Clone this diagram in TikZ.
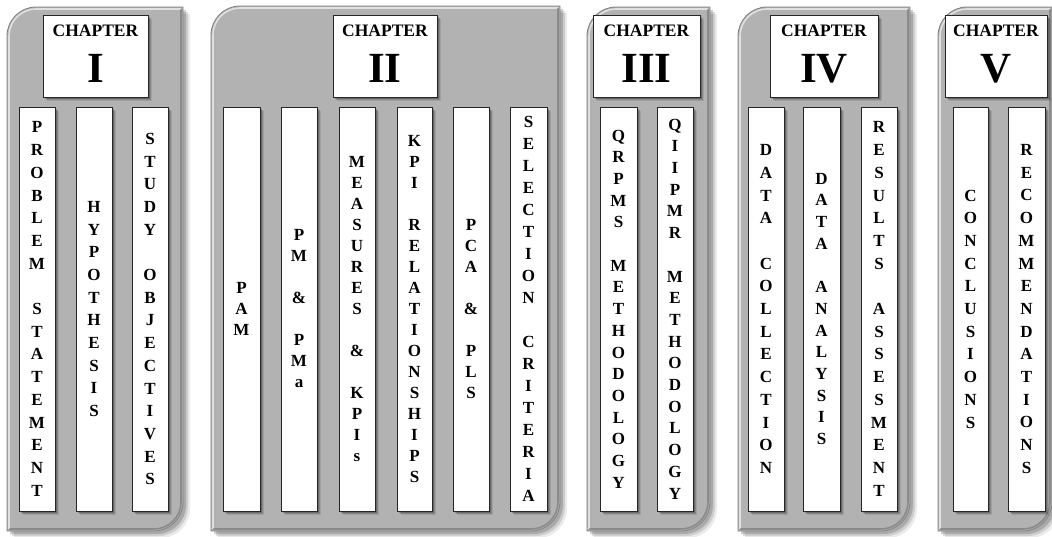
\documentclass[tikz,border=0pt]{standalone}
\usepackage{fontspec}
\setmainfont{Liberation Serif}
\newcommand\colfont[1]{\fontsize{17}{#1}\selectfont\bfseries}
\def\rad{29}
\begin{document}
\begin{tikzpicture}[x=1pt,y=-1pt,
  softshadow/.style={
    preaction={fill=black, opacity=0.10, transform canvas={shift={(4pt,-4pt)}}},
    preaction={fill=black, opacity=0.15, transform canvas={shift={(3pt,-3pt)}}},
    preaction={fill=black, opacity=0.22, transform canvas={shift={(1.8pt,-1.8pt)}}}},
  bigshadow/.style={
    preaction={fill=black, opacity=0.08, transform canvas={shift={(7pt,-7pt)}}},
    preaction={fill=black, opacity=0.12, transform canvas={shift={(5pt,-5pt)}}},
    preaction={fill=black, opacity=0.18, transform canvas={shift={(3pt,-3pt)}}}},
  panelbody/.style={bigshadow, fill=black!30, draw=black!50, line width=0.8pt},
  hilite/.style={draw=white, opacity=0.6, line width=1.6pt},
  lowlite/.style={draw=black, opacity=0.22, line width=1.6pt},
  colbox/.style={softshadow, draw=black!85, fill=white, line width=0.8pt,
    minimum height=404, inner sep=0pt, align=center, font=\colfont{#1}},
  colbox/.default=22.7,
  headbox/.style={softshadow, draw=black!85, fill=white, line width=0.8pt,
    minimum height=82, inner sep=0pt},
  chaptxt/.style={anchor=base, inner sep=0pt, font=\fontsize{17.5}{20}\selectfont\bfseries},
  numtxt/.style={anchor=base, inner sep=0pt, font=\fontsize{43}{43}\selectfont\bfseries}
]
\useasboundingbox (0,0) rectangle (1052,536);
\clip (0,0) rectangle (1052,536);

% chapter panels: rounded top-left and bottom-right corners
\foreach \xa/\ya/\xb/\yb in {7/7/183/531, 211/6/560/531, 587/7/710/531,
                             738/7/910/531, 938/7/1052/531}{
  \path[panelbody] (\xa,\yb) -- (\xa,{\ya+\rad})
    .. controls (\xa,{\ya+0.448*\rad}) and ({\xa+0.448*\rad},\ya) .. ({\xa+\rad},\ya)
    -- (\xb,\ya) -- (\xb,{\yb-\rad})
    .. controls (\xb,{\yb-0.448*\rad}) and ({\xb-0.448*\rad},\yb) .. ({\xb-\rad},\yb)
    -- cycle;
  % bevel: light upper-left edge, dark lower-right edge
  \draw[hilite] ({\xa+2},{\yb-2}) -- ({\xa+2},{\ya+\rad})
    .. controls ({\xa+2},{\ya+\rad-0.552*(\rad-2)}) and ({\xa+\rad-0.552*(\rad-2)},{\ya+2}) .. ({\xa+\rad},{\ya+2})
    -- ({\xb-2},{\ya+2});
  \draw[lowlite] ({\xb-2},{\ya+2}) -- ({\xb-2},{\yb-\rad})
    .. controls ({\xb-2},{\yb-\rad+0.552*(\rad-2)}) and ({\xb-\rad+0.552*(\rad-2)},{\yb-2}) .. ({\xb-\rad},{\yb-2})
    -- ({\xa+2},{\yb-2});
}

% chapter headers
\node[headbox, minimum width=105] (h1) at (95.5,56) {};
\node[headbox, minimum width=104] (h2) at (385,56) {};
\node[headbox, minimum width=107] (h3) at (646.5,56) {};
\node[headbox, minimum width=108] (h4) at (824,56) {};
\node[headbox, minimum width=102] (h5) at (996,56) {};
\node[chaptxt] (t1) at (95.5,36.5) {CHAPTER};
\node[chaptxt] (t2) at (385,36.5) {CHAPTER};
\node[chaptxt] (t3) at (646.5,36.5) {CHAPTER};
\node[chaptxt] (t4) at (824,36.5) {CHAPTER};
\node[chaptxt] (t5) at (996,36.5) {CHAPTER};
\node[numtxt] (n1) at (95.5,82) {I};
\node[numtxt] (n2) at (385,82) {II};
\node[numtxt] (n3) at (646.5,82) {III};
\node[numtxt] (n4) at (824,82) {IV};
\node[numtxt] (n5) at (996,82) {V};

% chapter I topics
\node[colbox, minimum width=36] (c11) at (37,309) {P\\R\\O\\B\\L\\E\\M\\~\\S\\T\\A\\T\\E\\M\\E\\N\\T};
\node[colbox, minimum width=36] (c12) at (94,309) {H\\Y\\P\\O\\T\\H\\E\\S\\I\\S};
\node[colbox, minimum width=36] (c13) at (150,309) {S\\T\\U\\D\\Y\\~\\O\\B\\J\\E\\C\\T\\I\\V\\E\\S};

% chapter II topics
\node[colbox=21, minimum width=37] (c21) at (241.5,309) {P\\A\\M};
\node[colbox=21, minimum width=36] (c22) at (299,309) {P\\M\\~\\\&\\~\\P\\M\\a};
\node[colbox=21, minimum width=36] (c23) at (357,309) {M\\E\\A\\S\\U\\R\\E\\S\\~\\\&\\~\\K\\P\\I\\s};
\node[colbox=21, minimum width=35] (c24) at (414.5,309) {K\\P\\I\\~\\R\\E\\L\\A\\T\\I\\O\\N\\S\\H\\I\\P\\S};
\node[colbox=21, minimum width=36] (c25) at (471,309) {P\\C\\A\\~\\\&\\~\\P\\L\\S};
\node[colbox=22, minimum width=37] (c26) at (528.5,309) {S\\E\\L\\E\\C\\T\\I\\O\\N\\~\\C\\R\\I\\T\\E\\R\\I\\A};

% chapter III topics
\node[colbox=21.7, minimum width=37] (c31) at (618.5,309) {Q\\R\\P\\M\\S\\~\\M\\E\\T\\H\\O\\D\\O\\L\\O\\G\\Y};
\node[colbox=21.7, minimum width=36] (c32) at (675,309) {Q\\I\\I\\P\\M\\R\\~\\M\\E\\T\\H\\O\\D\\O\\L\\O\\G\\Y};

% chapter IV topics
\node[colbox, minimum width=36] (c41) at (766,309) {D\\A\\T\\A\\~\\C\\O\\L\\L\\E\\C\\T\\I\\O\\N};
\node[colbox=21.7, minimum width=37] (c42) at (821.5,309) {D\\A\\T\\A\\~\\A\\N\\A\\L\\Y\\S\\I\\S};
\node[colbox, minimum width=36] (c43) at (879,309) {R\\E\\S\\U\\L\\T\\S\\~\\A\\S\\S\\E\\S\\M\\E\\N\\T};

% chapter V topics
\node[colbox, minimum width=35] (c51) at (970.5,309) {C\\O\\N\\C\\L\\U\\S\\I\\O\\N\\S};
\node[colbox, minimum width=37] (c52) at (1026.5,309) {R\\E\\C\\O\\M\\M\\E\\N\\D\\A\\T\\I\\O\\N\\S};
\end{tikzpicture}
\end{document}
